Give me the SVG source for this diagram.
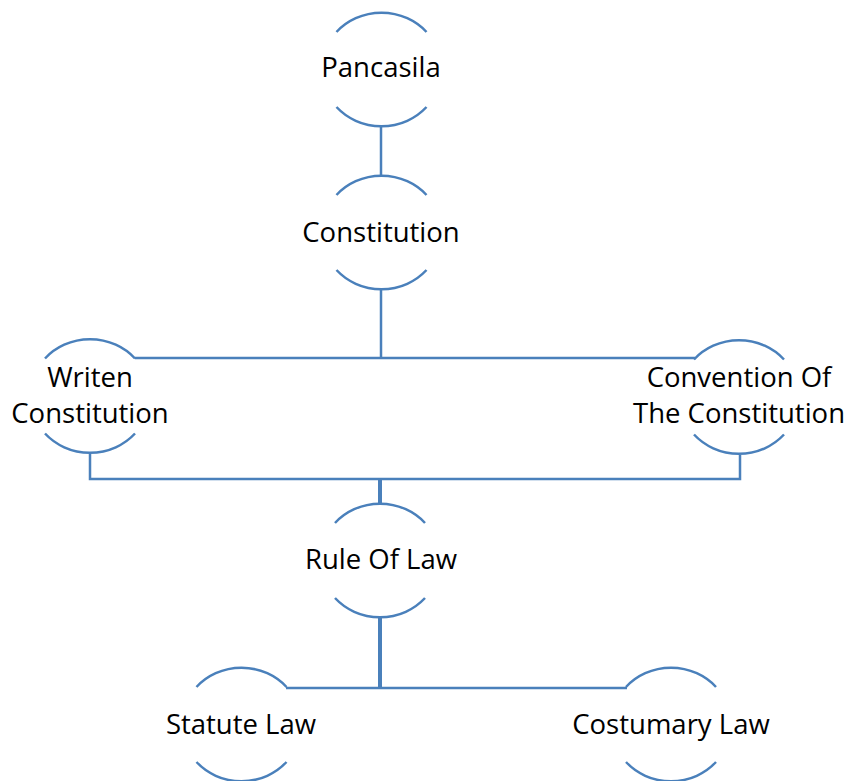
<svg xmlns="http://www.w3.org/2000/svg" width="850" height="781" viewBox="0 0 850 781">
<defs>
<style>
.arc{fill:none;stroke:#4a80bb;stroke-width:2.5}
.con{fill:none;stroke:#4a80bb;stroke-width:2.5}
.thick{stroke-width:4}
text{font-family:"Open Sans","Noto Sans","Liberation Sans",sans-serif;font-size:27.5px;fill:#000;text-anchor:middle}
</style>
<g id="shape">
<path class="arc" d="M-45,-37.5 A60,57 0 0 1 45,-37.5"/>
<path class="arc" d="M-45,37.5 A60,57 0 0 0 45,37.5"/>
</g>
</defs>
<rect width="850" height="781" fill="#fff"/>
<g id="connectors">
<path class="con" d="M381,125 V175"/>
<path class="con" d="M381,290 V358"/>
<path class="con" d="M135,358 H695"/>
<path class="con" d="M90,454 V479 H740 V455"/>
<path class="con thick" d="M380,479 V503"/>
<path class="con thick" d="M380,618 V688"/>
<path class="con" d="M286,688 H627"/>
</g>
<g id="pancasila"><use href="#shape" x="381.5" y="69.5"/><text x="381" y="77">Pancasila</text></g>
<g id="constitution"><use href="#shape" x="381.5" y="232.5"/><text x="381" y="242">Constitution</text></g>
<g id="writen"><use href="#shape" x="90" y="396"/><text x="90" y="387">Writen</text><text x="90" y="423">Constitution</text></g>
<g id="convention"><use href="#shape" x="739" y="397"/><text x="739" y="387">Convention Of</text><text x="739" y="423">The Constitution</text></g>
<g id="ruleoflaw"><use href="#shape" x="380" y="560.5"/><text x="381" y="569">Rule Of Law</text></g>
<g id="statute"><use href="#shape" x="241.5" y="724.5"/><text x="241" y="734">Statute Law</text></g>
<g id="costumary"><use href="#shape" x="671" y="724.5"/><text x="671" y="734">Costumary Law</text></g>
</svg>
